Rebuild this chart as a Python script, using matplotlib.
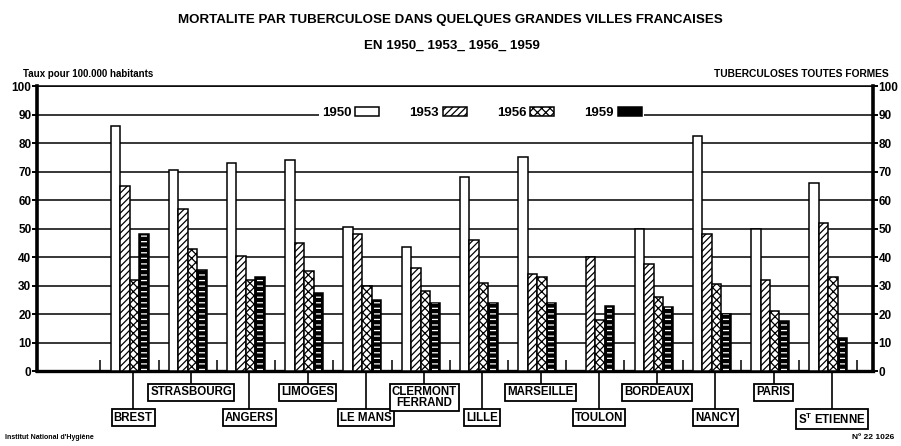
"""tuberculosis mortality in a few large french cities, 1950-1959

Redrawn from an old Institut National d'Hygiene plate: four bars per city,
one per survey year, city names boxed below the baseline on two staggered rows.
"""
import matplotlib.pyplot as plt
import numpy as np
from matplotlib.patches import Patch

plt.rcParams['font.family'] = ['Liberation Sans', 'DejaVu Sans']
plt.rcParams['hatch.linewidth'] = 0.9

cities = ['BREST', 'STRASBOURG', 'ANGERS', 'LIMOGES', 'LE MANS', 'CLERMONT\nFERRAND',
		'LILLE', 'MARSEILLE', 'TOULON', 'BORDEAUX', 'NANCY', 'PARIS',
		'S$^\\mathregular{T}$ ETIENNE']
years = ['1950', '1953', '1956', '1959']
rate_1950 = [86, 70.5, 73, 74, 50.5, 43.5, 68, 75, np.nan, 50, 82.5, 50, 66]
rate_1953 = [65, 57, 40.5, 45, 48, 36, 46, 34, 40, 37.5, 48, 32, 52]
rate_1956 = [32, 43, 32, 35, 30, 28, 31, 33, 18, 26, 30.5, 21, 33]
rate_1959 = [48, 35.5, 33, 27.5, 25, 24, 24, 24, 23, 22.5, 20, 17.5, 11.5]
y_ticks = list(range(0, 101, 10))

fig = plt.figure(figsize=(9.01, 4.46), dpi=100)
ax = fig.add_axes([0.041, 0.168, 0.928, 0.639])

x = np.arange(len(cities))
w = 0.163
styles = [
	dict(fc='white', ec='black', hatch=None),
	dict(fc='white', ec='black', hatch='/////'),
	dict(fc='white', ec='black', hatch='xxxx'),
	dict(fc='black', ec='black', hatch=None),
]
for k, (vals, st) in enumerate(zip([rate_1950, rate_1953, rate_1956, rate_1959], styles)):
	xs = x + (k - 1.5) * w
	ax.bar(xs, vals, w, facecolor=st['fc'], edgecolor=st['ec'], hatch=st['hatch'],
		linewidth=1.1, zorder=3)
# white ladder marks inside the black bars
ax.bar(x + 1.5 * w, rate_1959, w * 0.6, fill=False, edgecolor='white', hatch='---',
	linewidth=0, zorder=4)

# separators between cities at the baseline
ax.vlines(np.arange(len(cities) + 1) - 0.5, 0, 4, color='black', lw=1.1, zorder=2)

ax.set_xlim(-1.59, 12.77)
ax.set_ylim(0, 100)
ax.set_yticks(y_ticks)
ax.set_xticks([])
ax.yaxis.grid(True, color='black', lw=1.1, zorder=1)
ax.set_axisbelow(True)
for side, lw in (('left', 2.6), ('right', 2.6), ('bottom', 2.4), ('top', 1.1)):
	ax.spines[side].set_linewidth(lw)
ax.tick_params(axis='y', which='both', left=True, right=True, labelleft=True, labelright=True,
	direction='out', length=3.5, width=1.4, pad=0.5, labelsize=8.5)
for lab in ax.get_yticklabels():
	lab.set_fontweight('bold')

handles = [Patch(facecolor=st['fc'], edgecolor='black', hatch=st['hatch'], lw=1.1) for st in styles]
leg = ax.legend(handles, years, ncol=4, loc='center', bbox_to_anchor=(0.532, 0.905),
	markerfirst=False, frameon=True, framealpha=1, facecolor='white', edgecolor='none',
	fancybox=False, handlelength=1.8, handleheight=0.6, handletextpad=0.3,
	columnspacing=2.3, borderpad=0.2, prop=dict(weight='bold', size=9.5))
leg.set_zorder(5)

# boxed city names on two staggered rows, with leader lines
for i, name in enumerate(cities):
	xl = x[i] + 0.06
	ytop = -5.4 if i % 2 else -14.2
	ax.plot([xl, xl], [0, ytop - 2], color='black', lw=1.2, clip_on=False, zorder=2)
	ax.text(xl, ytop, name, ha='center', va='top', fontsize=8.3, fontweight='bold',
		linespacing=0.85,
		bbox=dict(boxstyle='square,pad=0.18', fc='white', ec='black', lw=1.3),
		clip_on=False, zorder=6)

fig.text(0.5, 0.955, 'MORTALITE PAR TUBERCULOSE DANS QUELQUES GRANDES VILLES FRANCAISES',
	ha='center', va='center', fontsize=9.6, fontweight='bold')
fig.text(0.502, 0.897, 'EN 1950_ 1953_ 1956_ 1959', ha='center', va='center',
	fontsize=9.6, fontweight='bold')
fig.text(0.025, 0.835, 'Taux pour 100.000 habitants', ha='left', va='center',
	fontsize=7, fontweight='bold')
fig.text(0.986, 0.835, 'TUBERCULOSES TOUTES FORMES', ha='right', va='center',
	fontsize=7.4, fontweight='bold')
fig.text(0.006, 0.02, "Institut National d'Hygiène", ha='left', va='center',
	fontsize=5, fontweight='bold')
fig.text(0.992, 0.02, 'Nº 22 1026', ha='right', va='center', fontsize=6, fontweight='bold')

fig.savefig('out.png', dpi=100)
